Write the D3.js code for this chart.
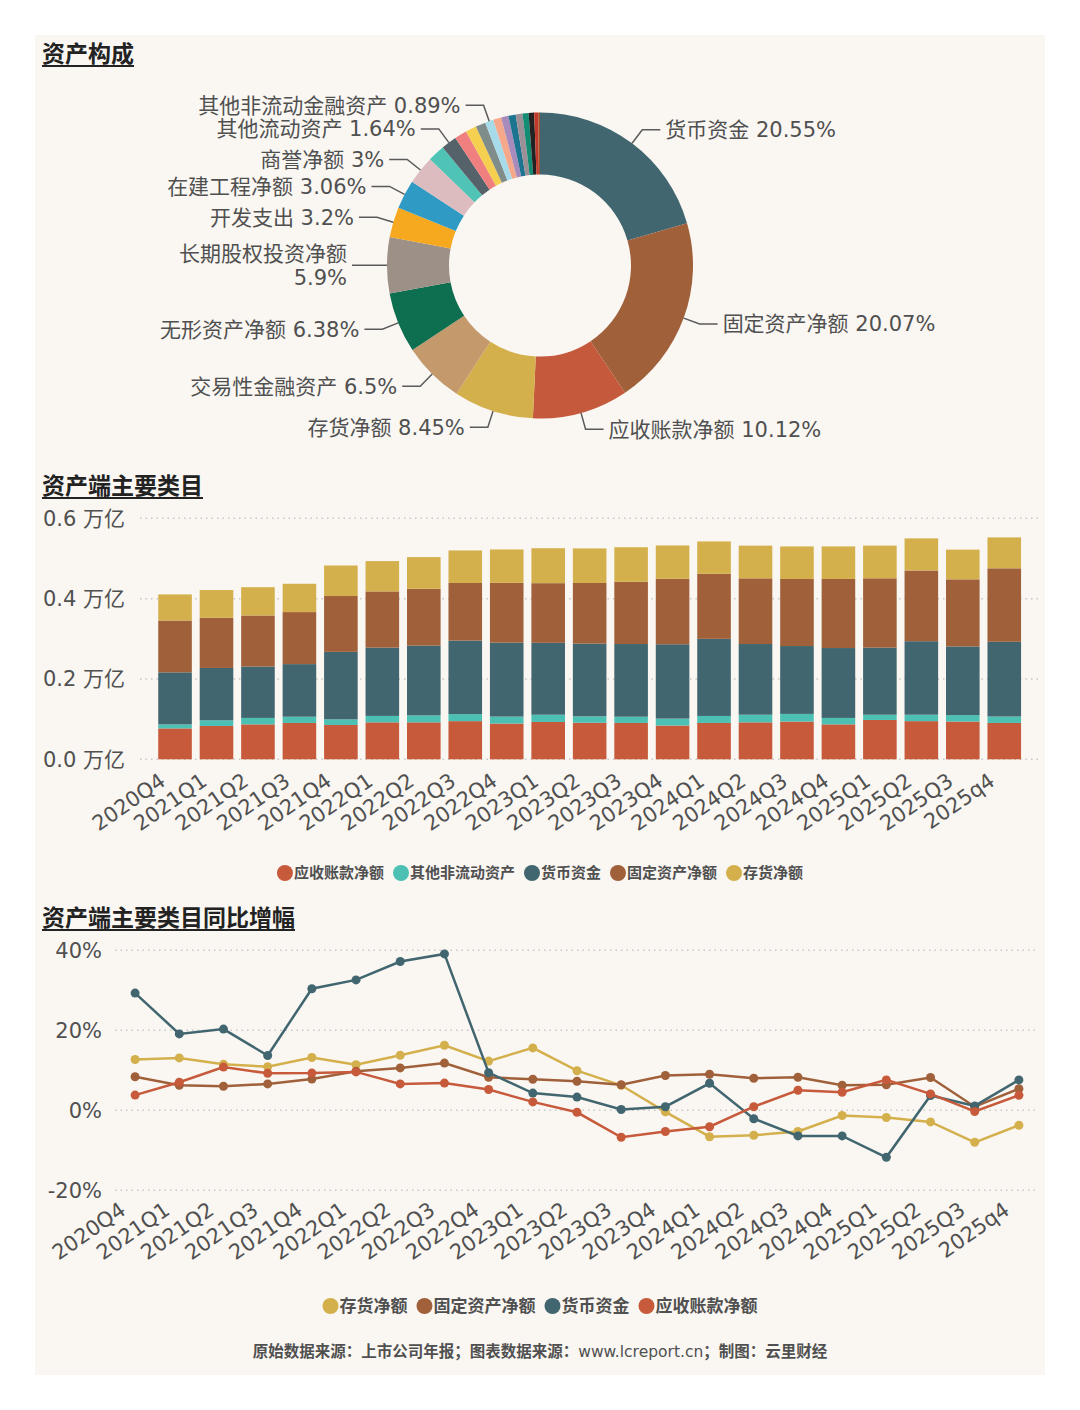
<!DOCTYPE html>
<html>
<head>
<meta charset="utf-8">
<script src="https://cdn.jsdelivr.net/npm/d3@7"></script>
<style>
body{margin:0;background:#fff;}
text{font-family:"DejaVu Sans","Noto Sans CJK SC",sans-serif;}
</style>
</head>
<body>
<svg id="chart" width="1080" height="1410"></svg>
<script>
// ---- data ----
const assetNames = ["货币资金","固定资产净额","应收账款净额","存货净额","交易性金融资产","无形资产净额","长期股权投资净额","开发支出","在建工程净额","商誉净额","其他非流动资产","其他流动资产","应收票据净额","预付款项净额","其他应收款净额","其他非流动金融资产","合同资产","使用权资产","递延所得税资产","长期待摊费用","应收款项融资","其他权益工具投资","投资性房地产净额","一年内到期的非流动资产"];
const assetShares = [20.55,20.07,10.12,8.45,6.5,6.38,5.9,3.2,3.06,3,1.8,1.64,1.3,1.15,1.05,0.89,0.85,0.78,0.76,0.72,0.64,0.58,0.42,0.19];
const assetColors = ["#41666f","#a0603a","#c5593b","#d4b04c","#c49a6c","#0d6e50","#9d9087","#f6a81f","#2f9bc4","#ddbcbf","#4ec3b6","#56626a","#f07f7f","#f4cf50","#7f8c8a","#a8dbea","#f6a88a","#a88bbd","#1d7490","#9a9095","#138c74","#222222","#c0392b","#a0522d"];

const quarters = ["2020Q4","2021Q1","2021Q2","2021Q3","2021Q4","2022Q1","2022Q2","2022Q3","2022Q4","2023Q1","2023Q2","2023Q3","2023Q4","2024Q1","2024Q2","2024Q3","2024Q4","2025Q1","2025Q2","2025Q3","2025q4"];

// 万亿
const receivables = [0.077,0.083,0.087,0.0905,0.0855,0.092,0.092,0.095,0.089,0.093,0.091,0.0905,0.084,0.0905,0.092,0.094,0.087,0.098,0.095,0.094,0.0905];
const otherNonCurrent = [0.010,0.014,0.016,0.0155,0.014,0.016,0.0174,0.0175,0.0174,0.018,0.016,0.0155,0.0174,0.0174,0.019,0.019,0.016,0.013,0.016,0.016,0.016];
const cash = [0.1295,0.1304,0.128,0.131,0.168,0.170,0.174,0.183,0.184,0.179,0.181,0.181,0.185,0.192,0.176,0.169,0.174,0.167,0.183,0.171,0.186];
const fixedAssets = [0.129,0.125,0.127,0.1295,0.139,0.140,0.141,0.1435,0.149,0.1485,0.151,0.155,0.163,0.162,0.1635,0.167,0.172,0.1726,0.176,0.167,0.183];
const inventory = [0.065,0.069,0.0705,0.0705,0.076,0.0755,0.079,0.081,0.083,0.087,0.086,0.086,0.083,0.0805,0.0814,0.081,0.081,0.0814,0.080,0.074,0.077];
const barTicks = [0,0.2,0.4,0.6];

// 同比 %
const inventoryYoY = [12.7,13.1,11.5,10.9,13.2,11.4,13.75,16.25,12.3,15.6,9.9,6.25,-0.4,-6.6,-6.25,-5.3,-1.3,-1.8,-2.9,-8.0,-3.75];
const fixedYoY = [8.4,6.25,6.0,6.6,7.8,9.75,10.6,11.8,8.25,7.75,7.25,6.4,8.7,9.0,8.0,8.25,6.25,6.4,8.2,0.9,5.4];
const cashYoY = [29.3,19.1,20.3,13.7,30.4,32.6,37.2,39.1,9.4,4.3,3.3,0.2,0.9,6.75,-2.1,-6.4,-6.4,-11.75,3.7,1.1,7.6];
const receivablesYoY = [3.8,7.0,10.8,9.25,9.3,9.6,6.6,6.8,5.2,2.1,-0.5,-6.75,-5.3,-4.1,0.9,5.0,4.5,7.6,4.1,-0.3,3.75];
const lineTicks = [-20,0,20,40];

const C = {recv:"#c65a3b", other:"#4bc0b3", cash:"#41666f", fixed:"#a0603a", inv:"#d4b04c"};
const TXT = "#505050";

const svg = d3.select("#chart");
svg.append("rect").attr("x",35).attr("y",35).attr("width",1010).attr("height",1340).attr("fill","#faf7f3");

function sectionTitle(label, x, y){
  const t = svg.append("text").attr("x",x).attr("y",y)
    .attr("font-size",23).attr("font-weight","bold").attr("fill","#222").text(label);
  const w = t.node().getComputedTextLength();
  svg.append("line").attr("x1",x).attr("x2",x+w).attr("y1",y+4).attr("y2",y+4)
    .attr("stroke","#222").attr("stroke-width",2);
}

function legend(items, cy, fs, r){
  const g = svg.append("g");
  let x = 0;
  items.forEach(it=>{
    g.append("circle").attr("cx",x+r).attr("cy",cy).attr("r",r).attr("fill",it.color);
    const t = g.append("text").attr("x",x+2*r+1).attr("y",cy).attr("dy","0.35em")
      .attr("font-size",fs).attr("font-weight","bold").attr("fill",TXT).text(it.name);
    x += 2*r + 1 + t.node().getComputedTextLength() + 9;
  });
  g.attr("transform",`translate(${540-(x-9)/2},0)`);
}

// ---- 资产构成 donut ----
sectionTitle("资产构成", 42, 62);
const cx = 540, cy = 265.5, R = 153, r0 = 91;
const pie = d3.pie().sort(null).value(d=>d.v);
const arcs = pie(assetNames.map((n,i)=>({n, v:assetShares[i], c:assetColors[i]})));
const arc = d3.arc().innerRadius(r0).outerRadius(R);
const donut = svg.append("g").attr("transform",`translate(${cx},${cy})`);
donut.selectAll("path").data(arcs).join("path").attr("d",arc).attr("fill",d=>d.data.c);

const shown = [];
arcs.forEach(a=>{
  const mid = (a.startAngle+a.endAngle)/2;
  const s = Math.sin(mid), c = Math.cos(mid);
  const right = s > 0.01;
  const p1 = [R*s, -R*c], p2 = [(R+17)*s, -(R+17)*c];
  const p3 = [p2[0] + (right?18:-18), p2[1]];
  const tx = p3[0] + (right?5:-5);
  const label = `${a.data.n} ${a.data.v}%`;
  const t = donut.append("text").attr("x",tx).attr("y",p3[1]).attr("dy","0.35em")
    .attr("font-size",21).attr("fill",TXT).attr("text-anchor",right?"start":"end").text(label);
  let half = 11;
  const w = t.node().getComputedTextLength();
  const avail = right ? (1040-(cx+tx)) : (cx+tx-145);
  if (w > avail) {
    t.text(null).attr("dy",null);
    t.append("tspan").attr("x",tx).attr("y",p3[1]-12).attr("dy","0.35em").text(a.data.n);
    t.append("tspan").attr("x",tx).attr("y",p3[1]+12).attr("dy","0.35em").text(a.data.v+"%");
    half = 23;
  }
  if (shown.some(o=>o.right===right && Math.abs(o.y-p3[1]) < o.half+half)) { t.remove(); return; }
  shown.push({right, y:p3[1], half});
  donut.append("polyline").attr("points",[p1,p2,p3].map(p=>p.join(",")).join(" "))
    .attr("fill","none").attr("stroke","#5a5a5a").attr("stroke-width",1.5);
});

// ---- 资产端主要类目 stacked bars ----
sectionTitle("资产端主要类目", 42, 494);
const barSeries = [
  {name:"应收账款净额", values:receivables, color:C.recv},
  {name:"其他非流动资产", values:otherNonCurrent, color:C.other},
  {name:"货币资金", values:cash, color:C.cash},
  {name:"固定资产净额", values:fixedAssets, color:C.fixed},
  {name:"存货净额", values:inventory, color:C.inv}
];
const xb = d3.scaleBand().domain(quarters).range([154.3,1025]).paddingInner(0.19).paddingOuter(0.095);
const yb = d3.scaleLinear().domain([0,0.6]).range([759.3,518.3]);

const gridB = svg.append("g");
barTicks.forEach(v=>{
  gridB.append("line").attr("x1",140).attr("x2",1038).attr("y1",yb(v)).attr("y2",yb(v))
    .attr("stroke","#c8c8c8").attr("stroke-width",1.5).attr("stroke-dasharray","1.5,4");
  gridB.append("text").attr("x",43).attr("y",yb(v)).attr("dy","0.35em")
    .attr("font-size",21).attr("fill",TXT).text(d3.format(".1f")(v)+" 万亿");
});

const rows = quarters.map((q,i)=>{
  const o = {q};
  barSeries.forEach(s=>o[s.name]=s.values[i]);
  return o;
});
const stacked = d3.stack().keys(barSeries.map(s=>s.name))(rows);
svg.append("g").selectAll("g").data(stacked).join("g")
  .attr("fill",(d,i)=>barSeries[i].color)
  .selectAll("rect").data(d=>d).join("rect")
  .attr("x",d=>xb(d.data.q)).attr("width",xb.bandwidth())
  .attr("y",d=>yb(d[1])).attr("height",d=>yb(d[0])-yb(d[1]));

svg.append("g").selectAll("text").data(quarters).join("text")
  .attr("transform",d=>`translate(${xb(d)+xb.bandwidth()/2-8},784) rotate(-35)`)
  .attr("text-anchor","end").attr("font-size",21).attr("fill",TXT).text(d=>d);

legend(barSeries.map(s=>({name:s.name,color:s.color})), 873, 15, 8);

// ---- 同比增幅 lines ----
sectionTitle("资产端主要类目同比增幅", 42, 926);
const lineSeries = [
  {name:"存货净额", values:inventoryYoY, color:C.inv},
  {name:"固定资产净额", values:fixedYoY, color:C.fixed},
  {name:"货币资金", values:cashYoY, color:C.cash},
  {name:"应收账款净额", values:receivablesYoY, color:C.recv}
];
const xl = d3.scalePoint().domain(quarters).range([113,1041]).padding(0.5);
const yl = d3.scaleLinear().domain([-20,40]).range([1190.3,950.3]);

const gridL = svg.append("g");
lineTicks.forEach(v=>{
  gridL.append("line").attr("x1",115).attr("x2",1038).attr("y1",yl(v)).attr("y2",yl(v))
    .attr("stroke","#c8c8c8").attr("stroke-width",1.5).attr("stroke-dasharray","1.5,4");
  gridL.append("text").attr("x",102).attr("y",yl(v)).attr("dy","0.35em").attr("text-anchor","end")
    .attr("font-size",21).attr("fill",TXT).text(v+"%");
});

const line = d3.line().x((d,i)=>xl(quarters[i])).y(d=>yl(d));
lineSeries.forEach(s=>{
  const g = svg.append("g");
  g.append("path").attr("d",line(s.values)).attr("fill","none")
    .attr("stroke",s.color).attr("stroke-width",2.5);
  g.selectAll("circle").data(s.values).join("circle")
    .attr("cx",(d,i)=>xl(quarters[i])).attr("cy",d=>yl(d)).attr("r",4.5).attr("fill",s.color);
});

svg.append("g").selectAll("text").data(quarters).join("text")
  .attr("transform",d=>`translate(${xl(d)-8},1213) rotate(-35)`)
  .attr("text-anchor","end").attr("font-size",21).attr("fill",TXT).text(d=>d);

legend(lineSeries.map(s=>({name:s.name,color:s.color})), 1306, 17, 8);

// ---- footer ----
const foot = svg.append("text").attr("x",540).attr("y",1352).attr("dy","0.35em")
  .attr("text-anchor","middle").attr("font-size",15.5).attr("fill",TXT).attr("font-weight","bold");
foot.append("tspan").text("原始数据来源：上市公司年报；图表数据来源：");
foot.append("tspan").attr("font-weight","normal").text("www.lcreport.cn");
foot.append("tspan").text("；制图：云里财经");
</script>
</body>
</html>
